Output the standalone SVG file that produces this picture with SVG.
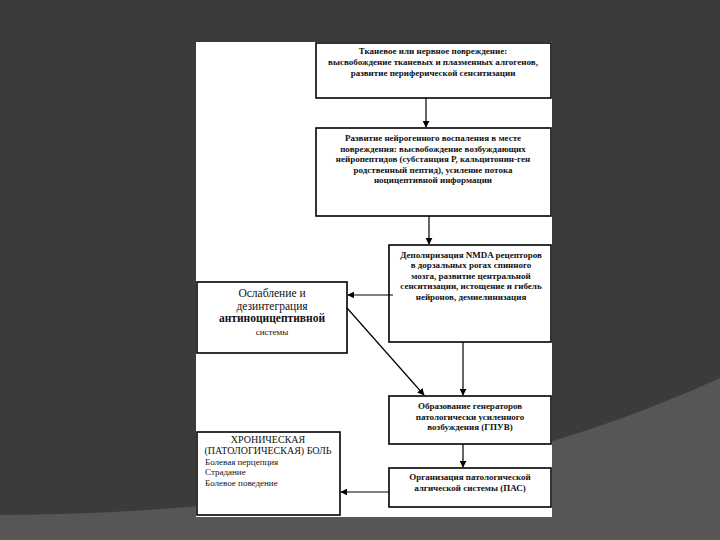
<svg xmlns="http://www.w3.org/2000/svg" width="720" height="540" viewBox="0 0 720 540">
<defs>
<style>
.box{fill:#fff;stroke:#000;stroke-width:1.6}
.t{font-family:"Liberation Serif","Times New Roman",serif;font-size:9px;font-weight:bold;fill:#111;text-anchor:middle}
.n{font-family:"Liberation Serif","Times New Roman",serif;fill:#111}
.c{fill:none;stroke:#000;stroke-width:1.2}
</style>
<marker id="ah" viewBox="0 0 10 10" refX="9" refY="5" markerWidth="7" markerHeight="7" orient="auto" markerUnits="userSpaceOnUse">
<path d="M0,0 L10,5 L0,10 Z" fill="#000"/>
</marker>
</defs>
<rect width="720" height="540" fill="#3b3b3b"/>
<path d="M0,515 C300,513 530,465 720,378 L720,540 L0,540 Z" fill="#565656"/>
<rect x="196" y="42" width="356" height="475" fill="#fff"/>

<g id="n1">
<rect class="box" x="316" y="43" width="235" height="55"/>
<text class="t" x="433" y="54">Тканевое или нервное повреждение:</text>
<text class="t" x="433" y="65">высвобождение тканевых и плазменных алгогенов,</text>
<text class="t" x="433" y="76">развитие периферической сенситизации</text>
</g>
<g id="n2">
<rect class="box" x="316" y="128" width="235" height="88"/>
<text class="t" x="433" y="141">Развитие нейрогенного воспаления в месте</text>
<text class="t" x="433" y="152">повреждения: высвобождение возбуждающих</text>
<text class="t" x="433" y="162">нейропептидов (субстанция Р, кальцитонин-ген</text>
<text class="t" x="433" y="173">родственный пептид), усиление потока</text>
<text class="t" x="433" y="183">ноцицептивной информации</text>
</g>
<g id="n3">
<rect class="box" x="389" y="245" width="162" height="97"/>
<text class="t" x="471" y="258">Деполяризация NMDA рецепторов</text>
<text class="t" x="471" y="268">в дорзальных рогах спинного</text>
<text class="t" x="471" y="279">мозга, развитие центральной</text>
<text class="t" x="471" y="289">сенситизации, истощение и гибель</text>
<text class="t" x="471" y="300">нейронов, демиелинизация</text>
</g>
<g id="n4">
<rect class="box" x="197" y="282" width="150" height="71"/>
<text class="n" x="272" y="297" font-size="11.5" text-anchor="middle">Ослабление и</text>
<text class="n" x="272" y="310" font-size="11.5" text-anchor="middle">дезинтеграция</text>
<text class="n" x="272" y="322" font-size="11.5" text-anchor="middle" font-weight="bold">антиноцицептивной</text>
<text class="n" x="272" y="335" font-size="9" text-anchor="middle">системы</text>
</g>
<g id="n5">
<rect class="box" x="389" y="396" width="162" height="48"/>
<text class="t" x="470" y="409">Образование генераторов</text>
<text class="t" x="470" y="420">патологически усиленного</text>
<text class="t" x="470" y="430">возбуждения (ГПУВ)</text>
</g>
<g id="n6">
<rect class="box" x="197" y="432" width="143" height="83"/>
<text class="n" x="268" y="443" font-size="10" text-anchor="middle">ХРОНИЧЕСКАЯ</text>
<text class="n" x="268" y="454" font-size="10" text-anchor="middle">(ПАТОЛОГИЧЕСКАЯ) БОЛЬ</text>
<text class="n" x="205" y="465" font-size="9">Болевая перцепция</text>
<text class="n" x="205" y="475" font-size="9">Страдание</text>
<text class="n" x="205" y="486" font-size="9">Болевое поведение</text>
</g>
<g id="n7">
<rect class="box" x="389" y="468" width="162" height="39"/>
<text class="t" x="470" y="480">Организация патологической</text>
<text class="t" x="470" y="491">алгической системы (ПАС)</text>
</g>

<g id="connectors">
<line class="c" x1="426" y1="98" x2="426" y2="127" marker-end="url(#ah)"/>
<line class="c" x1="429" y1="216" x2="429" y2="244" stroke-width="2" marker-end="url(#ah)"/>
<line class="c" x1="393" y1="295" x2="348" y2="295" marker-end="url(#ah)"/>
<line class="c" x1="347" y1="308" x2="424" y2="395" stroke-width="0.9" marker-end="url(#ah)"/>
<line class="c" x1="463" y1="342" x2="463" y2="395" marker-end="url(#ah)"/>
<line class="c" x1="463" y1="444" x2="463" y2="467" marker-end="url(#ah)"/>
<line class="c" x1="389" y1="492" x2="341" y2="492" marker-end="url(#ah)"/>
</g>
</svg>
